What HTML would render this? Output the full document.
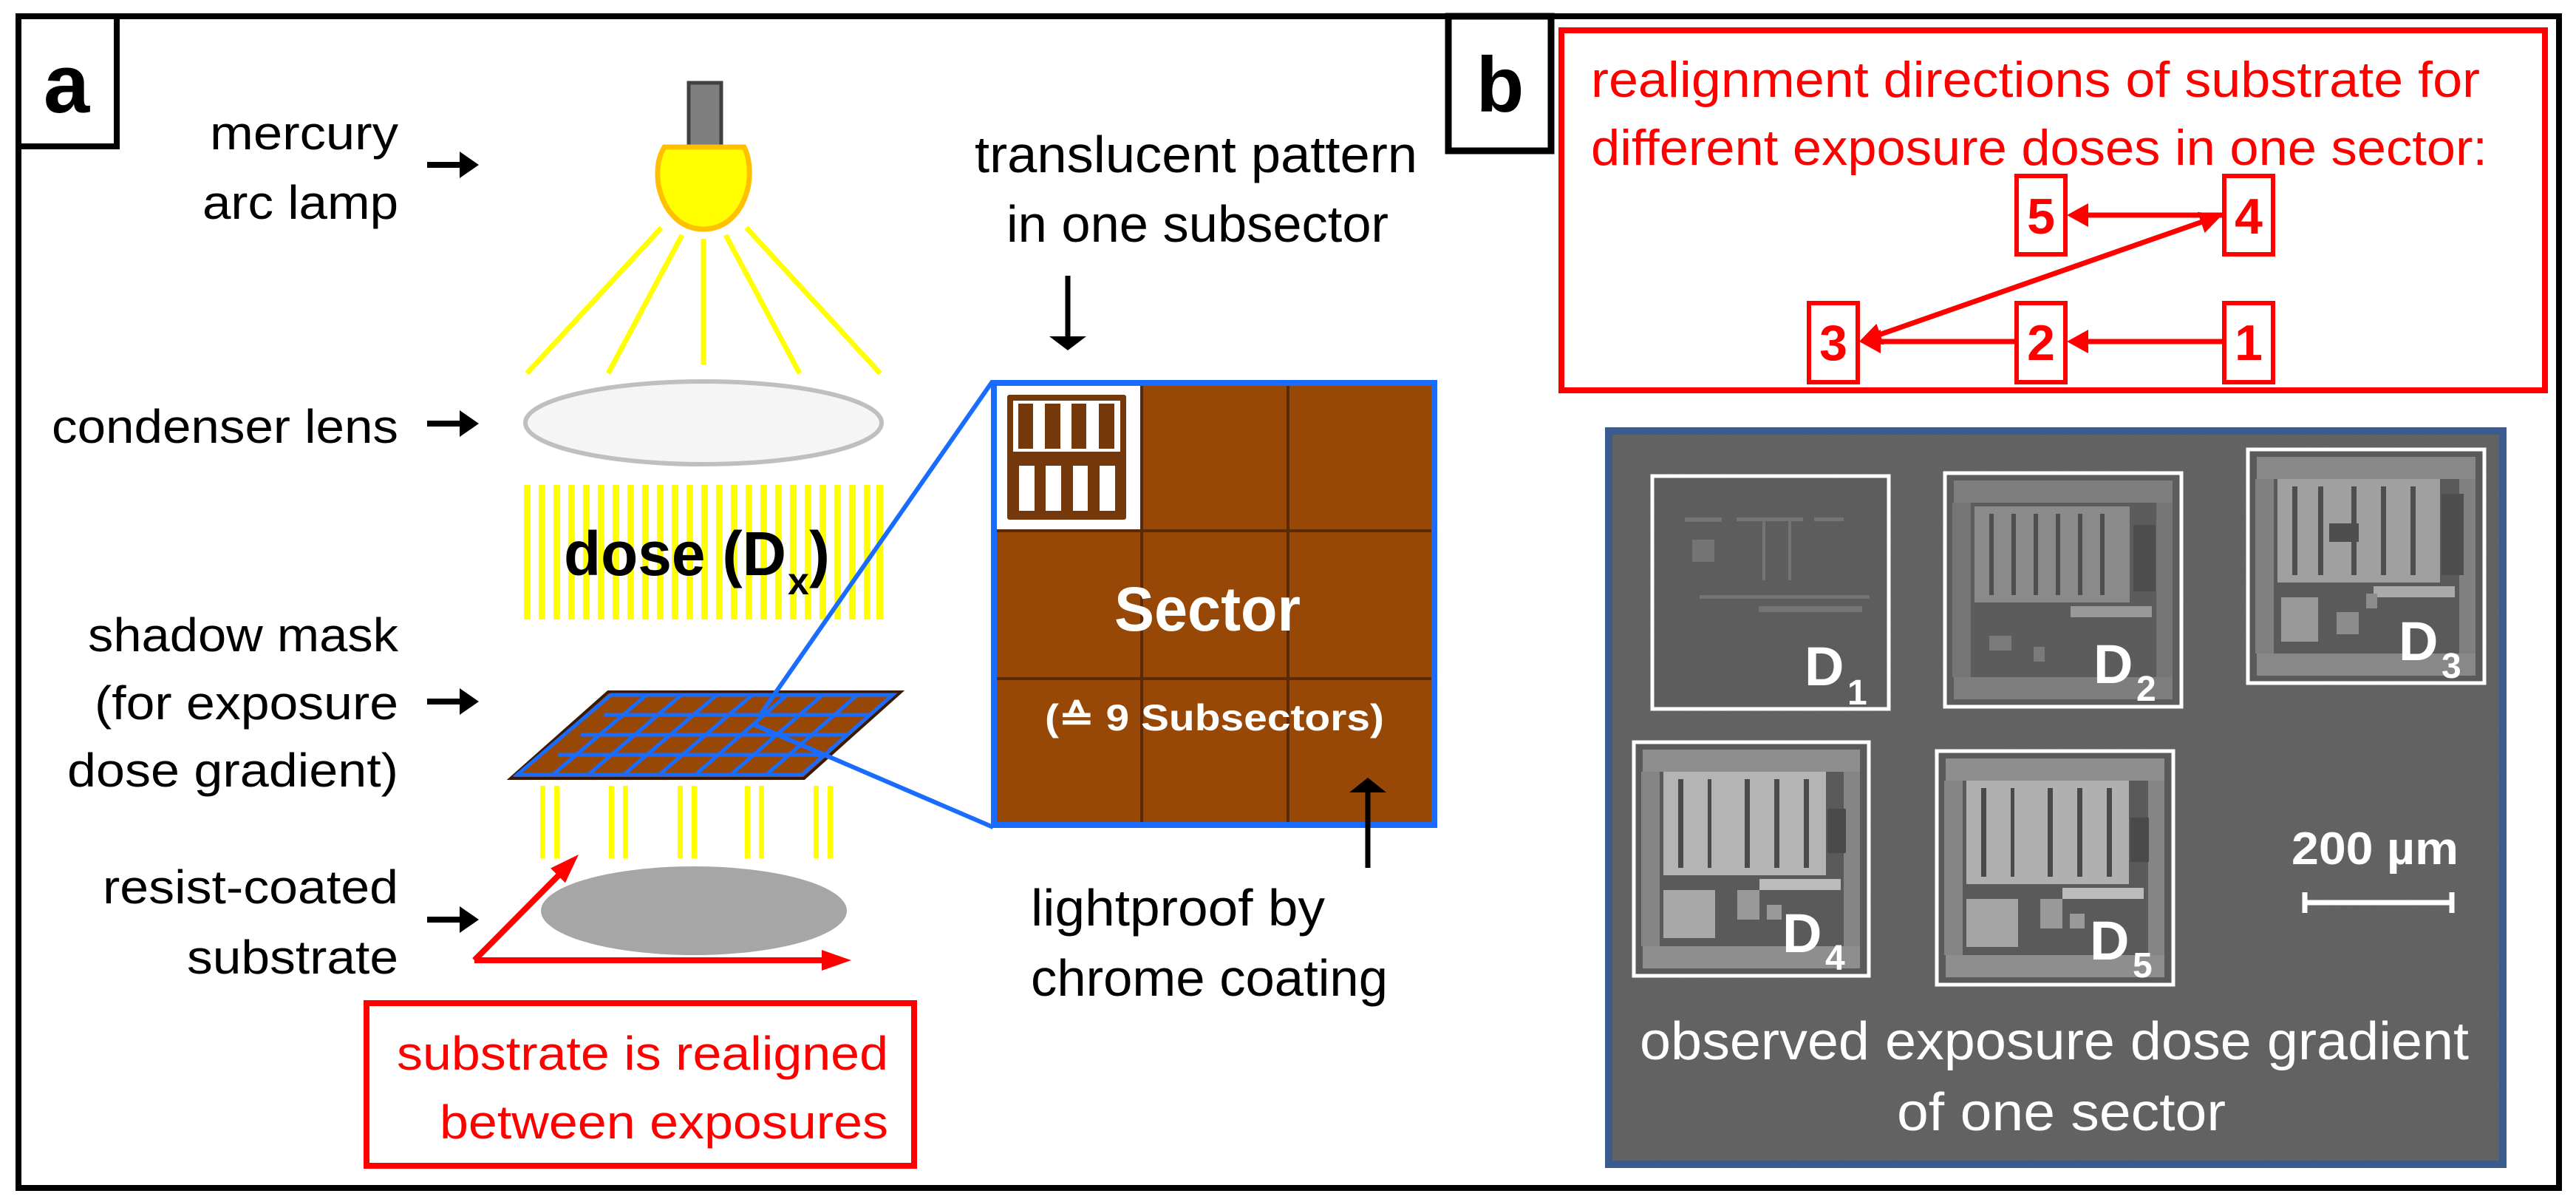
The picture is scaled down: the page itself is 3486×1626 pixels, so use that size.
<!DOCTYPE html>
<html><head><meta charset="utf-8"><style>html,body{margin:0;padding:0;background:#fff}svg{display:block}</style></head>
<body>
<svg width="3486" height="1626" viewBox="0 0 3486 1626" xmlns="http://www.w3.org/2000/svg" font-family="'Liberation Sans', sans-serif">
<defs>
<filter id="noise" x="0" y="0" width="100%" height="100%">
<feTurbulence type="fractalNoise" baseFrequency="0.8" numOctaves="2" seed="3"/>
<feColorMatrix type="matrix" values="0 0 0 0 0.5  0 0 0 0 0.5  0 0 0 0 0.5  0 0 0 0.5 0"/>
</filter>
</defs>
<rect width="3486" height="1626" fill="#fff"/>
<rect x="25" y="22" width="3438" height="1585" fill="none" stroke="#000" stroke-width="8"/>
<rect x="25" y="22" width="133" height="176" fill="#fff" stroke="#000" stroke-width="8"/>
<text x="90" y="152" font-size="112" font-weight="bold" text-anchor="middle">a</text>
<rect x="1960" y="22" width="139" height="182" fill="#fff" stroke="#000" stroke-width="9"/>
<text x="2030" y="151" font-size="106" font-weight="bold" text-anchor="middle">b</text>

<g font-size="64" fill="#000" text-anchor="end">
<text x="539" y="202" textLength="255" lengthAdjust="spacingAndGlyphs">mercury</text>
<text x="539" y="296" textLength="265" lengthAdjust="spacingAndGlyphs">arc lamp</text>
<text x="539" y="599" textLength="469" lengthAdjust="spacingAndGlyphs">condenser lens</text>
<text x="539" y="881" textLength="420" lengthAdjust="spacingAndGlyphs">shadow mask</text>
<text x="539" y="973" textLength="411" lengthAdjust="spacingAndGlyphs">(for exposure</text>
<text x="539" y="1064" textLength="448" lengthAdjust="spacingAndGlyphs">dose gradient)</text>
<text x="539" y="1222" textLength="400" lengthAdjust="spacingAndGlyphs">resist-coated</text>
<text x="539" y="1317" textLength="286" lengthAdjust="spacingAndGlyphs">substrate</text>
</g>
<g stroke="#000" stroke-width="8" fill="#000">
<line x1="578" y1="223" x2="625" y2="223"/><polygon points="648,223 622,205 622,241" stroke="none"/>
<line x1="578" y1="573" x2="625" y2="573"/><polygon points="648,573 622,555 622,591" stroke="none"/>
<line x1="578" y1="949" x2="625" y2="949"/><polygon points="648,949 622,931 622,967" stroke="none"/>
<line x1="578" y1="1244" x2="625" y2="1244"/><polygon points="648,1244 622,1226 622,1262" stroke="none"/>
</g>

<rect x="932" y="112" width="44" height="86" fill="#7f7f7f" stroke="#404040" stroke-width="5"/>
<path d="M 899 199 H 1007 C 1015 215 1015 235 1013 250 C 1005 290 980 310 952 310 C 924 310 899 290 891 250 C 889 235 889 215 899 199 Z" fill="#ffff00" stroke="#ffc000" stroke-width="7"/>
<g stroke="#ffff00" stroke-width="7">
<line x1="895" y1="308" x2="713" y2="505"/>
<line x1="923" y1="318" x2="823" y2="505"/>
<line x1="952" y1="323" x2="952" y2="493"/>
<line x1="982" y1="318" x2="1082" y2="505"/>
<line x1="1010" y1="308" x2="1191" y2="505"/>
</g>
<ellipse cx="952" cy="572" rx="241" ry="56" fill="#f5f5f5" stroke="#bfbfbf" stroke-width="6"/>
<g fill="#ffff00">
<rect x="709" y="656" width="9" height="182"/><rect x="729" y="656" width="9" height="182"/><rect x="749" y="656" width="9" height="182"/><rect x="769" y="656" width="9" height="182"/><rect x="789" y="656" width="9" height="182"/><rect x="809" y="656" width="9" height="182"/><rect x="829" y="656" width="9" height="182"/><rect x="849" y="656" width="9" height="182"/><rect x="869" y="656" width="9" height="182"/><rect x="889" y="656" width="9" height="182"/><rect x="909" y="656" width="9" height="182"/><rect x="929" y="656" width="9" height="182"/><rect x="949" y="656" width="9" height="182"/><rect x="969" y="656" width="9" height="182"/><rect x="989" y="656" width="9" height="182"/><rect x="1009" y="656" width="9" height="182"/><rect x="1029" y="656" width="9" height="182"/><rect x="1049" y="656" width="9" height="182"/><rect x="1069" y="656" width="9" height="182"/><rect x="1089" y="656" width="9" height="182"/><rect x="1109" y="656" width="9" height="182"/><rect x="1129" y="656" width="9" height="182"/><rect x="1149" y="656" width="9" height="182"/><rect x="1169" y="656" width="9" height="182"/><rect x="1186" y="656" width="9" height="182"/>
</g>
<text x="763" y="778" font-size="84" font-weight="bold" textLength="301" lengthAdjust="spacingAndGlyphs">dose (D</text>
<text x="1066" y="804" font-size="52" font-weight="bold">x</text>
<text x="1095" y="778" font-size="84" font-weight="bold">)</text>

<polygon points="823,936 1219,936 1088,1053 691,1053" fill="#974806" stroke="#3a1a04" stroke-width="4"/>
<g stroke="#1a6cff" stroke-width="5" fill="none">
<polygon points="827,940 1208,940 1085,1048 700,1048"/>
<line x1="817" y1="967" x2="1177" y2="967"/>
<line x1="786" y1="994" x2="1147" y2="994"/>
<line x1="755" y1="1021" x2="1116" y2="1021"/>
<line x1="875" y1="940" x2="748" y2="1048"/>
<line x1="922" y1="940" x2="796" y2="1048"/>
<line x1="970" y1="940" x2="844" y2="1048"/>
<line x1="1018" y1="940" x2="892" y2="1048"/>
<line x1="1065" y1="940" x2="941" y2="1048"/>
<line x1="1113" y1="940" x2="989" y2="1048"/>
<line x1="1160" y1="940" x2="1037" y2="1048"/>
</g>
<g stroke="#1a6cff" stroke-width="6">
<line x1="1030" y1="965" x2="1343" y2="516"/>
<line x1="1020" y1="980" x2="1344" y2="1119"/>
</g>
<g fill="#ffff00">
<rect x="731" y="1063" width="7" height="98"/><rect x="750" y="1063" width="7" height="98"/>
<rect x="824" y="1063" width="7" height="98"/><rect x="843" y="1063" width="7" height="98"/>
<rect x="917" y="1063" width="7" height="98"/><rect x="936" y="1063" width="7" height="98"/>
<rect x="1008" y="1063" width="7" height="98"/><rect x="1027" y="1063" width="7" height="98"/>
<rect x="1101" y="1063" width="7" height="98"/><rect x="1120" y="1063" width="7" height="98"/>
</g>
<ellipse cx="939" cy="1232" rx="207" ry="60" fill="#a6a6a6"/>
<g stroke="#ff0000" stroke-width="8" fill="#ff0000">
<line x1="642" y1="1299" x2="760" y2="1180"/>
<polygon points="783,1156 764.9,1194.3 745.1,1174.5" stroke="none"/>
<line x1="642" y1="1299" x2="1120" y2="1299"/>
<polygon points="1152,1299 1112,1285 1112,1313" stroke="none"/>
</g>
<rect x="496" y="1357" width="741" height="220" fill="none" stroke="#ff0000" stroke-width="8"/>
<text x="1202" y="1447" font-size="64" fill="#ff0000" text-anchor="end" textLength="665" lengthAdjust="spacingAndGlyphs">substrate is realigned</text>
<text x="1202" y="1540" font-size="64" fill="#ff0000" text-anchor="end" textLength="607" lengthAdjust="spacingAndGlyphs">between exposures</text>

<text x="1319" y="233" font-size="70" textLength="599" lengthAdjust="spacingAndGlyphs">translucent pattern</text>
<text x="1362" y="327" font-size="70" textLength="517" lengthAdjust="spacingAndGlyphs">in one subsector</text>
<line x1="1445" y1="373" x2="1445" y2="458" stroke="#000" stroke-width="7"/>
<polygon points="1445,474 1420,455 1470,455" fill="#000"/>

<rect x="1345" y="518" width="596" height="598" fill="#974806" stroke="#1a6cff" stroke-width="8"/>
<rect x="1349" y="522" width="194" height="196" fill="#fff"/>
<g stroke="#5a2a08" stroke-width="4">
<line x1="1545" y1="522" x2="1545" y2="1112"/>
<line x1="1743" y1="522" x2="1743" y2="1112"/>
<line x1="1349" y1="718" x2="1937" y2="718"/>
<line x1="1349" y1="918" x2="1937" y2="918"/>
</g>
<rect x="1363" y="534" width="161" height="169" rx="3" fill="#74380a"/>
<rect x="1371" y="542" width="145" height="69" fill="#fff"/>
<g fill="#74380a">
<rect x="1378" y="546" width="20" height="61"/><rect x="1414" y="546" width="21" height="61"/><rect x="1450" y="546" width="20" height="61"/><rect x="1487" y="546" width="21" height="61"/>
</g>
<g fill="#fff">
<rect x="1379" y="630" width="21" height="61"/><rect x="1415" y="630" width="21" height="61"/><rect x="1452" y="630" width="20" height="61"/><rect x="1488" y="630" width="21" height="61"/>
</g>
<text x="1508" y="853" font-size="84" font-weight="bold" fill="#fff" textLength="252" lengthAdjust="spacingAndGlyphs">Sector</text>
<text x="1414" y="988" font-size="50" font-weight="bold" fill="#fff" textLength="459" lengthAdjust="spacingAndGlyphs">(≙ 9 Subsectors)</text>
<line x1="1851" y1="1070" x2="1851" y2="1174" stroke="#000" stroke-width="7"/>
<polygon points="1851,1052 1826,1072 1876,1072" fill="#000"/>
<text x="1395" y="1252" font-size="70" textLength="398" lengthAdjust="spacingAndGlyphs">lightproof by</text>
<text x="1395" y="1347" font-size="70" textLength="483" lengthAdjust="spacingAndGlyphs">chrome coating</text>

<rect x="2113" y="41" width="1331" height="487" fill="none" stroke="#ff0000" stroke-width="8"/>
<text x="2153" y="131" font-size="68" fill="#ff0000" textLength="1203" lengthAdjust="spacingAndGlyphs">realignment directions of substrate for</text>
<text x="2153" y="223" font-size="68" fill="#ff0000" textLength="1213" lengthAdjust="spacingAndGlyphs">different exposure doses in one sector:</text>
<g fill="#fff" stroke="#ff0000" stroke-width="6">
<rect x="2448" y="410" width="66" height="107"/>
<rect x="2729" y="410" width="66" height="107"/>
<rect x="3010" y="410" width="66" height="107"/>
<rect x="2729" y="238" width="66" height="106"/>
<rect x="3010" y="238" width="66" height="106"/>
</g>
<g font-size="68" font-weight="bold" fill="#ff0000" text-anchor="middle">
<text x="2481" y="487">3</text>
<text x="2762" y="487">2</text>
<text x="3043" y="487">1</text>
<text x="2762" y="316">5</text>
<text x="3043" y="316">4</text>
</g>
<g stroke="#ff0000" stroke-width="7" fill="#ff0000">
<line x1="3007" y1="462" x2="2820" y2="462"/><polygon points="2797,462 2826,446 2826,478" stroke="none"/>
<line x1="2726" y1="462" x2="2540" y2="462"/><polygon points="2516,462 2545,446 2545,478" stroke="none"/>
<line x1="3007" y1="291" x2="2820" y2="291"/><polygon points="2797,291 2826,275 2826,307" stroke="none"/>
<line x1="2540" y1="454" x2="2983" y2="299"/>
<polygon points="2516,462 2549.2,466.3 2539.4,437.9" stroke="none"/>
<polygon points="3007,291 2983.6,315.1 2973.8,286.7" stroke="none"/>
</g>

<rect x="2177" y="583" width="1210" height="992" fill="#5a5a5a" stroke="#3b5b8c" stroke-width="10"/>
<rect x="2182" y="588" width="1200" height="982" filter="url(#noise)" opacity="0.35"/>

<rect x="2236" y="644" width="320" height="315" fill="#5d5d5d" stroke="#fff" stroke-width="5"/>
<g fill="#7a7a7a" opacity="0.8">
<rect x="2280" y="700" width="50" height="6"/><rect x="2350" y="700" width="90" height="5"/><rect x="2455" y="700" width="40" height="5"/>
<rect x="2290" y="730" width="30" height="30"/><rect x="2385" y="705" width="4" height="80"/><rect x="2420" y="705" width="4" height="80"/>
<rect x="2300" y="805" width="230" height="5"/><rect x="2380" y="820" width="140" height="8"/>
</g>
<g transform="translate(2632,640)">
<rect x="0" y="0" width="320" height="316" fill="#5c5c5c" stroke="#fff" stroke-width="5"/>
<rect x="12" y="10" width="296" height="30" fill="#7e7e7e"/><rect x="12" y="276" width="296" height="30" fill="#7e7e7e"/>
<rect x="10" y="40" width="25" height="236" fill="#757575"/><rect x="286" y="40" width="22" height="236" fill="#757575"/>
<rect x="40" y="45" width="210" height="130" fill="#8a8a8a"/>
<g fill="#4e4e4e"><rect x="60" y="55" width="6" height="110"/><rect x="90" y="55" width="6" height="110"/><rect x="120" y="55" width="6" height="110"/><rect x="150" y="55" width="6" height="110"/><rect x="180" y="55" width="6" height="110"/><rect x="210" y="55" width="6" height="110"/><rect x="255" y="70" width="30" height="90"/></g>
<rect x="170" y="180" width="110" height="15" fill="#999"/>
<rect x="60" y="220" width="30" height="20" fill="#7a7a7a"/><rect x="120" y="235" width="15" height="20" fill="#7a7a7a"/>
</g>
<g transform="translate(3042,608)">
<rect x="0" y="0" width="320" height="316" fill="#5a5a5a" stroke="#fff" stroke-width="5"/>
<rect x="12" y="10" width="296" height="30" fill="#888"/><rect x="12" y="276" width="296" height="30" fill="#888"/>
<rect x="10" y="40" width="25" height="236" fill="#808080"/><rect x="286" y="40" width="22" height="236" fill="#808080"/>
<rect x="40" y="40" width="220" height="140" fill="#a0a0a0"/>
<g fill="#4e4e4e"><rect x="60" y="50" width="7" height="120"/><rect x="95" y="50" width="7" height="120"/><rect x="140" y="50" width="7" height="120"/><rect x="180" y="50" width="7" height="120"/><rect x="220" y="50" width="7" height="120"/><rect x="110" y="100" width="40" height="25"/><rect x="262" y="60" width="30" height="110"/></g>
<rect x="170" y="185" width="110" height="15" fill="#aaa"/>
<rect x="45" y="200" width="50" height="60" fill="#999"/><rect x="120" y="220" width="30" height="30" fill="#8c8c8c"/><rect x="160" y="195" width="15" height="20" fill="#8c8c8c"/>
</g>
<g transform="translate(2211,1004)">
<rect x="0" y="0" width="318" height="316" fill="#5a5a5a" stroke="#fff" stroke-width="5"/>
<rect x="12" y="10" width="294" height="30" fill="#8e8e8e"/><rect x="12" y="276" width="294" height="30" fill="#8e8e8e"/>
<rect x="10" y="40" width="25" height="236" fill="#858585"/><rect x="284" y="40" width="22" height="236" fill="#858585"/>
<rect x="40" y="40" width="220" height="140" fill="#b4b4b4"/>
<g fill="#4a4a4a"><rect x="60" y="50" width="7" height="120"/><rect x="100" y="50" width="5" height="120"/><rect x="150" y="50" width="7" height="120"/><rect x="190" y="50" width="7" height="120"/><rect x="230" y="50" width="7" height="120"/><rect x="262" y="90" width="25" height="60"/></g>
<rect x="170" y="185" width="110" height="15" fill="#bbb"/>
<rect x="40" y="200" width="70" height="65" fill="#a8a8a8"/><rect x="140" y="200" width="30" height="40" fill="#999"/><rect x="180" y="220" width="20" height="20" fill="#999"/>
</g>
<g transform="translate(2621,1016)">
<rect x="0" y="0" width="320" height="316" fill="#5a5a5a" stroke="#fff" stroke-width="5"/>
<rect x="12" y="10" width="296" height="30" fill="#8e8e8e"/><rect x="12" y="276" width="296" height="30" fill="#8e8e8e"/>
<rect x="10" y="40" width="25" height="236" fill="#858585"/><rect x="286" y="40" width="22" height="236" fill="#858585"/>
<rect x="40" y="40" width="220" height="140" fill="#b0b0b0"/>
<g fill="#4a4a4a"><rect x="60" y="50" width="7" height="120"/><rect x="100" y="50" width="5" height="120"/><rect x="150" y="50" width="7" height="120"/><rect x="190" y="50" width="7" height="120"/><rect x="230" y="50" width="7" height="120"/><rect x="262" y="90" width="25" height="60"/></g>
<rect x="170" y="185" width="110" height="15" fill="#bbb"/>
<rect x="40" y="200" width="70" height="65" fill="#a4a4a4"/><rect x="140" y="200" width="30" height="40" fill="#999"/><rect x="180" y="220" width="20" height="20" fill="#999"/>
</g>
<g fill="#fff" font-weight="bold">
<text x="2442" y="927" font-size="74">D</text><text x="2500" y="953" font-size="48">1</text>
<text x="2833" y="924" font-size="74">D</text><text x="2891" y="948" font-size="48">2</text>
<text x="3246" y="893" font-size="74">D</text><text x="3304" y="917" font-size="48">3</text>
<text x="2412" y="1288" font-size="74">D</text><text x="2470" y="1312" font-size="48">4</text>
<text x="2828" y="1298" font-size="74">D</text><text x="2886" y="1322" font-size="48">5</text>
</g>
<text x="3101" y="1169" font-size="62" font-weight="bold" fill="#fff" textLength="226" lengthAdjust="spacingAndGlyphs">200 µm</text>
<g stroke="#fff" stroke-width="7">
<line x1="3116" y1="1221" x2="3321" y2="1221"/>
<line x1="3119" y1="1207" x2="3119" y2="1235"/>
<line x1="3318" y1="1207" x2="3318" y2="1235"/>
</g>
<text x="2219" y="1433" font-size="72" fill="#fff" textLength="1122" lengthAdjust="spacingAndGlyphs">observed exposure dose gradient</text>
<text x="2567" y="1529" font-size="72" fill="#fff" textLength="445" lengthAdjust="spacingAndGlyphs">of one sector</text>
</svg>
</body></html>
